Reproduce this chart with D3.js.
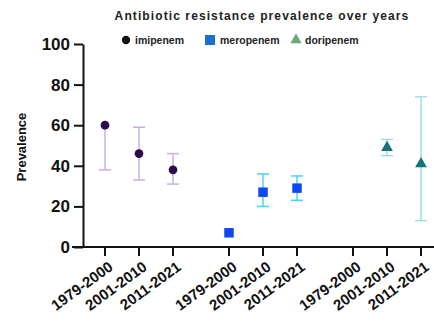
<!DOCTYPE html>
<html>
<head>
<meta charset="utf-8">
<script src="https://cdn.jsdelivr.net/npm/d3@7"></script>
<style>
  html, body { margin: 0; background: #fff; overflow: hidden; }
  svg { display: block; font-family: "Liberation Sans", Arial, sans-serif; }
</style>
</head>
<body>
<div id="chart"></div>
<script>
// data
const groups = ['imipenem', 'meropenem', 'doripenem']
const periods = ['1979-2000', '2001-2010', '2011-2021']
const yTicks = [0, 20, 40, 60, 80, 100]

const imipenemMean = [60, 46, 38]
const imipenemLow = [38, 33, 31]
const imipenemHigh = [null, 59, 46]

const meropenemMean = [7, 27, 29]
const meropenemLow = [null, 20, 23]
const meropenemHigh = [null, 36, 35]

const doripenemMean = [null, 49, 41]
const doripenemLow = [null, 45, 13]
const doripenemHigh = [null, 53, 74]

const styles = {
  imipenem: { shape: d3.symbolCircle, size: 60, fill: '#2b0d4e', bar: '#c6b0e6', legend: '#111' },
  meropenem: { shape: d3.symbolSquare, size: 90, fill: '#1147f0', bar: '#4fd2f7', legend: '#1c6fd0' },
  doripenem: { shape: d3.symbolTriangle, size: 60, fill: '#17727a', bar: '#9fdde4', legend: '#6aaa78' }
}

const series = [
  { name: 'imipenem', mean: imipenemMean, low: imipenemLow, high: imipenemHigh },
  { name: 'meropenem', mean: meropenemMean, low: meropenemLow, high: meropenemHigh },
  { name: 'doripenem', mean: doripenemMean, low: doripenemLow, high: doripenemHigh }
]

const width = 434
const height = 322
const margin = { top: 44, right: 0, bottom: 75, left: 83 }
const innerHeight = height - margin.top - margin.bottom

const svg = d3.select('#chart').append('svg')
  .attr('width', width)
  .attr('height', height)

const g = svg.append('g')
  .attr('transform', 'translate(' + margin.left + ',' + margin.top + ')')

// group position + offset within group
const xGroup = d3.scalePoint().domain(groups).range([22, 270])
const xPeriod = d3.scalePoint().domain(periods).range([0, 68])
const X = (grp, per) => xGroup(grp) + xPeriod(per)

const yScale = d3.scaleLinear().domain([0, 100]).range([innerHeight, 0])

// flatten to points
const points = []
series.forEach(s => {
  periods.forEach((p, i) => {
    points.push({ group: s.name, period: p, mean: s.mean[i], low: s.low[i], high: s.high[i] })
  })
})

// error bars
const capW = 6
const eb = g.selectAll('.err')
  .data(points.filter(d => d.mean !== null && (d.low !== null || d.high !== null)))
  .enter().append('g')
  .attr('class', 'err')
  .attr('stroke', d => styles[d.group].bar)
  .attr('stroke-width', 1.5)

eb.append('line')
  .attr('x1', d => X(d.group, d.period))
  .attr('x2', d => X(d.group, d.period))
  .attr('y1', d => yScale(d.low !== null ? d.low : d.mean))
  .attr('y2', d => yScale(d.high !== null ? d.high : d.mean))

eb.filter(d => d.low !== null).append('line')
  .attr('x1', d => X(d.group, d.period) - capW)
  .attr('x2', d => X(d.group, d.period) + capW)
  .attr('y1', d => yScale(d.low))
  .attr('y2', d => yScale(d.low))

eb.filter(d => d.high !== null).append('line')
  .attr('x1', d => X(d.group, d.period) - capW)
  .attr('x2', d => X(d.group, d.period) + capW)
  .attr('y1', d => yScale(d.high))
  .attr('y2', d => yScale(d.high))

// markers
g.selectAll('.pt')
  .data(points.filter(d => d.mean !== null))
  .enter().append('path')
  .attr('class', 'pt')
  .attr('transform', d => 'translate(' + X(d.group, d.period) + ',' + yScale(d.mean) + ')')
  .attr('d', d => d3.symbol().type(styles[d.group].shape).size(styles[d.group].size)())
  .attr('fill', d => styles[d.group].fill)

// y axis
const yAxis = g.append('g')
  .call(d3.axisLeft(yScale).tickValues(yTicks).tickSize(9).tickSizeOuter(0).tickPadding(4))
yAxis.select('.domain').attr('stroke', '#111').attr('stroke-width', 2)
yAxis.selectAll('.tick line').attr('stroke', '#111').attr('stroke-width', 2)
yAxis.selectAll('.tick text')
  .attr('fill', '#111')
  .style('font-size', '17px')
  .style('font-weight', 'bold')

// x axis: one line across, ticks at each point
const xa = g.append('g').attr('transform', 'translate(0,' + innerHeight + ')')
xa.append('line')
  .attr('x1', -11).attr('x2', width - margin.left)
  .attr('stroke', '#111').attr('stroke-width', 2)

const ticks = xa.selectAll('.xtick')
  .data(points)
  .enter().append('g')
  .attr('class', 'xtick')
  .attr('transform', d => 'translate(' + X(d.group, d.period) + ',0)')

ticks.append('line')
  .attr('y1', 0).attr('y2', 9)
  .attr('stroke', '#111').attr('stroke-width', 2)

// rotated labels, font a touch smaller so the lowest one stays clear of the edge
ticks.append('g')
  .attr('transform', 'translate(9,22) rotate(-36)')
  .append('text')
  .attr('text-anchor', 'end')
  .attr('fill', '#111')
  .style('font-size', '15px')
  .style('font-weight', 'bold')
  .text(d => d.period)

// y label
svg.append('g')
  .attr('transform', 'translate(26,147) rotate(-90)')
  .append('text')
  .attr('text-anchor', 'middle')
  .attr('fill', '#111')
  .style('font-size', '13px')
  .style('font-weight', 'bold')
  .text('Prevalence')

// title
svg.append('text')
  .attr('x', 262).attr('y', 20)
  .attr('text-anchor', 'middle')
  .attr('fill', '#222')
  .style('font-size', '12px')
  .style('font-weight', 'bold')
  .style('letter-spacing', '1.1px')
  .text('Antibiotic resistance prevalence over years')

// legend
const legendX = [126, 210, 296]
const legend = svg.selectAll('.legend')
  .data(groups)
  .enter().append('g')
  .attr('class', 'legend')
  .attr('transform', (d, i) => 'translate(' + legendX[i] + ',40)')

legend.append('path')
  .attr('d', d => d3.symbol().type(styles[d].shape).size(d === 'meropenem' ? 100 : 55)())
  .attr('fill', d => styles[d].legend)

legend.append('text')
  .attr('x', (d, i) => i === 1 ? 10 : 9)
  .attr('dy', '0.35em')
  .attr('fill', '#222')
  .style('font-size', '10.5px')
  .style('font-weight', 'bold')
  .text(d => d)
</script>
</body>
</html>
